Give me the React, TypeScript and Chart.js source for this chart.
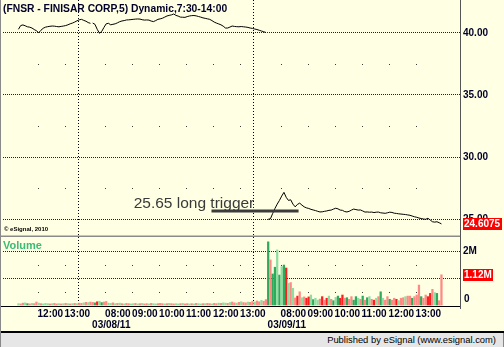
import React, { useEffect, useRef } from 'react';
import { Chart, registerables } from 'chart.js';

Chart.register(...registerables);

// ---- data ----
const sessionDates = ['03/07/11', '03/08/11', '03/09/11'];
const sessionStarts = ['11:15', '07:30', '07:30'];
const barMinutes = 5;

const day1Close = [
  40.30, 40.60, 40.65, 40.58, 40.50, 40.47, 40.40, 40.28, 40.18, 40.02,
  40.22, 40.38, 40.47, 40.51, 40.54, 40.56, 40.55, 40.52, 40.50, 40.53,
  40.56, 40.60, 40.66, 40.74, 40.80, 40.88, 40.98, 41.06, 41.10, 41.02,
  40.95, 40.84, 40.78,
];
const day2Close = [
  40.80, 40.70, 40.30, 39.98, 40.12, 40.45, 40.74, 40.78, 40.66, 40.70,
  40.74, 40.82, 40.91, 40.97, 41.00, 41.05, 41.06, 41.08, 41.10, 41.12,
  41.13, 41.12, 41.07, 41.04, 41.05, 41.04, 40.96, 40.92, 41.00, 41.10,
  41.14, 41.19, 41.28, 41.37, 41.42, 41.46, 41.53, 41.42, 41.36, 41.28,
  41.27, 41.26, 41.32, 41.37, 41.40, 41.41, 41.38, 41.33, 41.28, 41.22,
  41.18, 41.14, 41.10, 41.00, 40.88, 40.80, 40.73, 40.66, 40.55, 40.40,
  40.40, 40.48, 40.56, 40.53, 40.51, 40.50, 40.52, 40.50, 40.48, 40.45,
  40.40, 40.37, 40.32, 40.28, 40.22, 40.16, 40.10, 40.04,
];
const day3Close = [
  24.98, 25.02, 25.45, 25.85, 26.20, 26.50, 26.85, 27.15, 26.75, 26.50,
  26.55, 26.20, 25.98, 26.18, 26.28, 26.12, 25.98, 25.90, 25.85, 25.78,
  25.73, 25.68, 25.62, 25.57, 25.58, 25.62, 25.65, 25.70, 25.72, 25.80,
  25.87, 25.82, 25.72, 25.70, 25.60, 25.57, 25.62, 25.72, 25.80, 25.76,
  25.72, 25.73, 25.65, 25.56, 25.57, 25.55, 25.56, 25.52, 25.55, 25.56,
  25.50, 25.48, 25.46, 25.50, 25.55, 25.53, 25.47, 25.45, 25.42, 25.40,
  25.38, 25.36, 25.33, 25.30, 25.24, 25.18, 25.14, 25.08, 25.04, 25.00,
  24.98, 25.06, 24.92, 24.78, 24.75, 24.78, 24.70, 24.6075,
];

// volume in millions
const day1Volume = [
  0.05, 0.04, 0.07, 0.08, 0.05, 0.04, 0.06, 0.05, 0.11, 0.07,
  0.05, 0.04, 0.06, 0.05, 0.04, 0.05, 0.06, 0.04, 0.05, 0.04,
  0.05, 0.06, 0.05, 0.04, 0.05, 0.06, 0.05, 0.07, 0.06, 0.08,
  0.10, 0.09, 0.11,
];
const day2Volume = [
  0.10, 0.08, 0.12, 0.14, 0.09, 0.11, 0.13, 0.07, 0.06, 0.08,
  0.05, 0.06, 0.07, 0.05, 0.04, 0.06, 0.05, 0.04, 0.05, 0.06,
  0.04, 0.05, 0.06, 0.04, 0.05, 0.04, 0.06, 0.05, 0.04, 0.05,
  0.06, 0.05, 0.04, 0.05, 0.06, 0.05, 0.04, 0.05, 0.04, 0.05,
  0.06, 0.04, 0.05, 0.04, 0.05, 0.04, 0.06, 0.05, 0.04, 0.05,
  0.05, 0.06, 0.05, 0.04, 0.06, 0.05, 0.07, 0.06, 0.08, 0.07,
  0.06, 0.09, 0.11, 0.08, 0.07, 0.10, 0.12, 0.09, 0.08, 0.11,
  0.10, 0.13, 0.11, 0.15, 0.12, 0.17, 0.14, 0.20,
];
const day3Volume = [
  2.34, 1.67, 1.15, 1.40, 2.04, 1.11, 1.42, 1.48, 1.37,
  0.80, 0.83, 0.62, 0.26, 0.33, 0.49, 0.27, 0.30, 0.25, 0.30, 0.37,
  0.20, 0.25, 0.18, 0.22, 0.31, 0.18, 0.25, 0.33, 0.21, 0.16,
  0.28, 0.33, 0.25, 0.37, 0.25, 0.27, 0.21, 0.31, 0.18, 0.31,
  0.25, 0.21, 0.33, 0.18, 0.27, 0.31, 0.21, 0.18, 0.25, 0.31,
  0.49, 0.25, 0.18, 0.31, 0.21, 0.18, 0.25, 0.21, 0.16, 0.25,
  0.27, 0.31, 0.33, 0.33, 0.25, 0.31, 0.37, 0.74, 0.31, 0.25,
  0.37, 0.31, 0.43, 0.58, 0.46, 0.43, 0.16, 1.12,
];
// G strong green, g light green, R strong red, r light red
const day1Tone = 'grrgGrgrrg' + 'rgggrgrrgr' + 'grgrgrgrrg' + 'rgr';
const day2Tone = 'rGRgGrrggr' + 'grgrgrrggr' + 'grgrrgrggr' + 'rrgrgrrggr' + 'grrgrgrggr' + 'grrgrrgrgg' + 'rgrrgrgrrg' + 'rrgrrgrr';
const day3Tone = 'GrGGgGgGR' + 'grgrRrgrRRg' + 'GggrRrRgrG' + 'gGRRrGrrGG' + 'grGrGgrRgr' + 'GgrrGrrRgr' + 'rgrrGrrrGr' + 'rRRrgGrr';

const priceTicks = [25, 30, 35, 40];
const priceMinor = [27.5, 32.5, 37.5];
const volumeTicks = [1, 2];
const volumeMinor = [0.5, 1.5];
const priceRange = [23.63, 42.66];
const volumeRange = [-0.037, 2.556];
const xRange = [0, 190.83];

const triggerLevel = 25.65;
const triggerSpan = [86.3, 125];
const triggerText = '25.65 long trigger';
const triggerTextAt = [51.7, 25.9];

const titleText = '(FNSR - FINISAR CORP,5) Dynamic,7:30-14:00';

// ---- style ----
const FONT = "'Liberation Sans', Arial, sans-serif";
const BG = '#FFFFE3';
const INK = '#000028';
const TONE: Record<string, string> = { G: '#2FAA5C', g: '#8FDDA2', R: '#FF1E1E', r: '#FF8A84' };

// ---- build series ----
const closes = [day1Close, day2Close, day3Close];
const volumes = [day1Volume, day2Volume, day3Volume];
const tones = [day1Tone, day2Tone, day3Tone];

const priceData: { x: number; y: number | null }[] = [];
const volumeData: { x: number; y: number }[] = [];
const volumeColors: string[] = [];
const tickLabels = new Map<number, string | string[]>();
const hourTicks: number[] = [];
const dayTicks: number[] = [];
{
  let idx = 0;
  closes.forEach((arr, d) => {
    const [hh, mm] = sessionStarts[d].split(':').map(Number);
    let minutes = hh * 60 + mm;
    if (d > 0) {
      dayTicks.push(idx);
      tickLabels.set(idx, ['', sessionDates[d]]);
      priceData.push({ x: idx, y: null });
    }
    arr.forEach((c, k) => {
      if (minutes % 60 === 0) {
        hourTicks.push(idx);
        tickLabels.set(idx, String(minutes / 60).padStart(2, '0') + ':00');
      }
      priceData.push({ x: idx + 0.5, y: c });
      volumeData.push({ x: idx + 0.5, y: volumes[d][k] });
      volumeColors.push(TONE[tones[d][k]]);
      minutes += barMinutes;
      idx++;
    });
  });
}
const triggerData = triggerSpan.map((x) => ({ x, y: triggerLevel }));
const lastPrice = day3Close[day3Close.length - 1];
const lastVolume = day3Volume[day3Volume.length - 1];

const noPad = (s: any) => {
  s.paddingTop = 0;
  s.paddingBottom = 0;
  s.paddingLeft = 0;
  s.paddingRight = 0;
};

const decor = {
  id: 'decor',
  beforeDraw(chart: any) {
    const { ctx, width, height } = chart;
    ctx.save();
    ctx.fillStyle = BG;
    ctx.fillRect(0, 0, width, height);
    ctx.restore();
  },
  beforeDatasetsDraw(chart: any) {
    const { ctx } = chart;
    const { x, y, yv } = chart.scales;
    ctx.save();
    ctx.fillStyle = '#3a3a3a';
    hourTicks.forEach((t) => {
      const px = Math.round(x.getPixelForValue(t));
      priceMinor.forEach((p) => ctx.fillRect(px, Math.round(y.getPixelForValue(p)), 1, 1));
      volumeMinor.forEach((v) => ctx.fillRect(px, Math.round(yv.getPixelForValue(v)), 1, 1));
    });
    ctx.restore();
  },
  afterDraw(chart: any) {
    const { ctx, chartArea, width } = chart;
    const { x, y, yv } = chart.scales;
    ctx.save();
    // pane separators & frame
    ctx.fillStyle = '#C4C4C4';
    ctx.fillRect(0, Math.round(y.bottom) - 1, chartArea.right, 1);
    ctx.fillStyle = '#8A8A8A';
    ctx.fillRect(0, Math.round(y.bottom), chartArea.right, 1);
    ctx.fillStyle = '#000';
    ctx.fillRect(0, Math.round(yv.bottom), chartArea.right, 1);
    ctx.fillStyle = '#555';
    ctx.fillRect(Math.round(chartArea.right) - 1, 0, 1, Math.round(yv.bottom) + 3);
    ctx.fillStyle = '#000';
    ctx.fillRect(0, chart.height - 2, width, 2);
    ctx.fillStyle = '#8a8a8a';
    ctx.fillRect(0, 0, 1, chart.height);

    ctx.textAlign = 'left';

    // x-axis labels, left-aligned at their tick
    ctx.fillStyle = INK;
    ctx.font = `bold 10px ${FONT}`;
    ctx.textBaseline = 'middle';
    x.ticks.forEach((t: any) => {
      const lbl = tickLabels.get(t.value);
      if (lbl === undefined) return;
      const px = x.getPixelForValue(t.value);
      if (Array.isArray(lbl)) ctx.fillText(lbl[1], px + 0.5, x.top + 19.5);
      else ctx.fillText(lbl, px, x.top + 8);
    });

    // title
    ctx.fillStyle = INK;
    ctx.font = `bold 10.3px ${FONT}`;
    ctx.fillText(titleText, 3, 9.5);

    // copyright
    ctx.fillStyle = '#000';
    ctx.font = `bold 6px ${FONT}`;
    ctx.fillText('\u00A9 eSignal, 2010', 4, y.bottom - 7);

    // Volume label
    ctx.fillStyle = '#3DBA78';
    ctx.font = `bold 11px ${FONT}`;
    ctx.fillText('Volume', 3, yv.top + 10);

    // annotation
    ctx.fillStyle = '#3a3a3a';
    ctx.font = `15.5px ${FONT}`;
    ctx.textBaseline = 'alphabetic';
    ctx.fillText(triggerText, x.getPixelForValue(triggerTextAt[0]), y.getPixelForValue(triggerTextAt[1]));

    // zero label for volume
    ctx.fillStyle = INK;
    ctx.font = `bold 10px ${FONT}`;
    ctx.textBaseline = 'middle';
    ctx.fillText('0', chartArea.right + 3, yv.getPixelForValue(0) - 5.5);

    // value tags
    const tag = (yc: number, text: string) => {
      ctx.font = `bold 10px ${FONT}`;
      const w = Math.ceil(ctx.measureText(text).width) + 2;
      ctx.fillStyle = '#FF0000';
      ctx.fillRect(chartArea.right + 2, Math.round(yc - 6), w, 12);
      ctx.fillStyle = '#FFFFFF';
      ctx.textBaseline = 'middle';
      ctx.fillText(text, chartArea.right + 3, yc + 0.5);
    };
    tag(y.getPixelForValue(lastPrice), lastPrice.toFixed(4));
    tag(yv.getPixelForValue(lastVolume), lastVolume.toFixed(2) + 'M');
    ctx.restore();
  },
};

export default function App() {
  const ref = useRef<HTMLCanvasElement | null>(null);
  useEffect(() => {
    if (!ref.current) return;
    const tickFont = { family: FONT, size: 10, weight: 'bold' as const, lineHeight: 1.2 };
    const chart = new Chart(ref.current, {
      type: 'bar',
      data: {
        datasets: [
          {
            type: 'line',
            data: triggerData,
            borderColor: '#3c3c3c',
            borderWidth: 3,
            pointRadius: 0,
            yAxisID: 'y',
            xAxisID: 'x',
            order: 0,
          } as any,
          {
            type: 'line',
            data: priceData,
            borderColor: '#000',
            borderWidth: 1,
            pointRadius: 0,
            spanGaps: false,
            yAxisID: 'y',
            xAxisID: 'x',
            order: 1,
          } as any,
          {
            type: 'bar',
            data: volumeData,
            backgroundColor: volumeColors,
            barThickness: 1.6,
            yAxisID: 'yv',
            xAxisID: 'x',
            order: 2,
          } as any,
        ],
      },
      options: {
        responsive: false,
        animation: false,
        devicePixelRatio: 1,
        events: [],
        layout: { padding: { left: 3, right: 0, top: 0, bottom: 0 } },
        plugins: { legend: { display: false }, tooltip: { enabled: false } },
        scales: {
          x: {
            type: 'linear',
            position: 'bottom',
            min: xRange[0],
            max: xRange[1],
            afterBuildTicks: (s: any) => {
              s.ticks = [...tickLabels.keys()].sort((a, b) => a - b).map((v) => ({ value: v }));
            },
            afterFit: (s: any) => {
              s.height = 27;
              noPad(s);
            },
            ticks: { display: false, autoSkip: false },
            grid: {
              drawTicks: false,
              lineWidth: 1,
              color: (c: any) => (c.tick && dayTicks.includes(c.tick.value) ? '#000' : 'rgba(0,0,0,0)'),
            },
            border: { display: false, dash: [1, 2] },
          },
          y: {
            type: 'linear',
            position: 'right',
            stack: 'pane',
            stackWeight: 236,
            min: priceRange[0],
            max: priceRange[1],
            afterBuildTicks: (s: any) => {
              s.ticks = priceTicks.map((v) => ({ value: v }));
            },
            afterFit: (s: any) => {
              s.width = 43;
              noPad(s);
            },
            ticks: { padding: 2, font: tickFont, color: INK, callback: (v: any) => Number(v).toFixed(2) },
            grid: { drawTicks: false, color: '#222', lineWidth: 1 },
            border: { display: false, dash: [1, 1] },
          },
          yv: {
            type: 'linear',
            position: 'right',
            stack: 'pane',
            stackWeight: 70,
            min: volumeRange[0],
            max: volumeRange[1],
            afterBuildTicks: (s: any) => {
              s.ticks = volumeTicks.map((v) => ({ value: v }));
            },
            afterFit: (s: any) => {
              s.width = 43;
              noPad(s);
            },
            ticks: { padding: 2, font: tickFont, color: INK, callback: (v: any) => `${v}M` },
            grid: { drawTicks: false, color: '#222', lineWidth: 1 },
            border: { display: false, dash: [1, 1] },
          },
        },
      } as any,
      plugins: [decor],
    });
    return () => chart.destroy();
  }, []);

  return (
    <div style={{ position: 'fixed', left: 0, top: 0, width: 504, height: 347, background: '#E6E6E6', overflow: 'hidden' }}>
      <canvas ref={ref} width={504} height={333} style={{ display: 'block', width: 504, height: 333 }} />
      <div
        style={{
          height: 14,
          lineHeight: '14px',
          textAlign: 'right',
          paddingRight: 7,
          fontFamily: FONT,
          fontSize: '9.4px',
          color: '#000',
          borderRight: '1px solid #888',
          borderLeft: '1px solid #888',
        }}
      >
        Published by eSignal (www.esignal.com)
      </div>
    </div>
  );
}
